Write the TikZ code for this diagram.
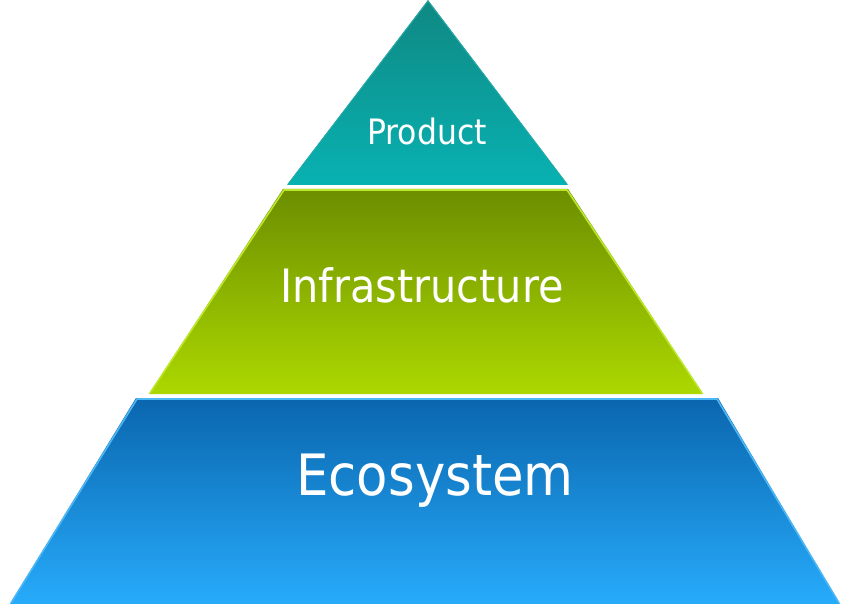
\documentclass[tikz,border=0pt]{standalone}
\usepackage{fontspec}
\setmainfont{DejaVu Sans Condensed}
\usepackage{xcolor}
\usepackage{tikz}
\usetikzlibrary{positioning}
\definecolor{tealtop}{HTML}{0F8883}
\definecolor{tealbot}{HTML}{08B2B2}
\definecolor{tealrim}{HTML}{3CC4C2}
\definecolor{greentop}{HTML}{6C8E00}
\definecolor{greenbot}{HTML}{ACD800}
\definecolor{greenrim}{HTML}{BCE62A}
\definecolor{bluetop}{HTML}{0A66AE}
\definecolor{bluebot}{HTML}{27ABFB}
\definecolor{bluerim}{HTML}{4DB6F5}
\tikzset{
  layer/.style ={line width=1.6pt, line join=round},
  lbl/.style   ={text=white, anchor=base},
}
\begin{document}
\begin{tikzpicture}[x=1pt, y=-1pt]
  \useasboundingbox (0,0) rectangle (849,604);
  % bottom tier
  \shade[top color=bluetop, bottom color=bluebot] (136,398) -- (718,398) -- (840,604) -- (10,604) -- cycle;
  \draw[layer, bluerim] (11,603) -- (137,399) -- (717,399) -- (839,603);
  % middle tier
  \shade[top color=greentop, bottom color=greenbot] (283,189) -- (568,189) -- (703,394) -- (149,394) -- cycle;
  \draw[layer, greenrim] (150,393) -- (284,190) -- (567,190) -- (702,393);
  % top tier
  \shade[top color=tealtop, bottom color=tealbot] (428,0) -- (568,185) -- (287,185) -- cycle;
  \draw[layer, tealrim!60!tealtop, line width=0.8pt] (288,184) -- (428,1) -- (567,184);
  \node[lbl, font=\fontsize{35}{40}\selectfont] (product) at (427,145) {Product};
  \node[lbl, font=\fontsize{46}{52}\selectfont] (infra) at (422,302) {Infrastructure};
  \node[lbl, font=\fontsize{57}{64}\selectfont] (eco) at (435,495) {Ecosystem};
\end{tikzpicture}
\end{document}
